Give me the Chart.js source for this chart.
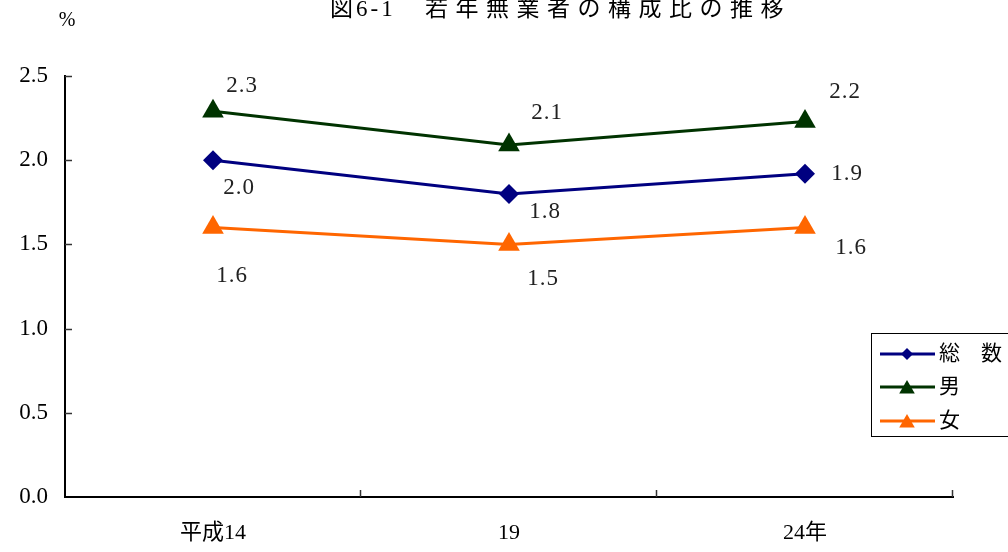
<!DOCTYPE html>
<html>
<head>
<meta charset="utf-8">
<script src="https://cdn.jsdelivr.net/npm/chart.js@4.4.1/dist/chart.umd.min.js"></script>
<style>
  html, body { margin: 0; padding: 0; background: #ffffff; }
  #wrap { width: 1008px; height: 552px; }
</style>
</head>
<body>
<div id="wrap"><canvas id="c" width="1008" height="552"></canvas></div>
<script>
// Survey years and the share of young jobless people (%)
const categories = ['平成14', '19', '24年'];
const totalValues = [2.0, 1.8, 1.92];
const maleValues = [2.29, 2.09, 2.23];
const femaleValues = [1.6, 1.5, 1.6];
const yTicks = [0.0, 0.5, 1.0, 1.5, 2.0, 2.5];
const seriesNames = ['総\u3000数', '男', '女'];

const SERIF = "'Liberation Serif', 'Noto Sans CJK JP', serif";
const COLORS = ['#000080', '#003300', '#ff6600'];
const STYLES = ['rectRot', 'triangle', 'triangle'];

// where each value label sits relative to its point [dx, dy]
const labelOffsets = [
  [[26, 28], [36, 18], [42, 0]],
  [[29, -25], [38, -32], [40, -30]],
  [[19, 48], [34, 35], [46, 20]]
];

const valueLabels = {
  id: 'valueLabels',
  afterDatasetsDraw(chart) {
    const ctx = chart.ctx;
    ctx.save();
    ctx.font = '23px ' + SERIF;
    ctx.fillStyle = '#222';
    ctx.textAlign = 'center';
    ctx.textBaseline = 'middle';
    ctx.letterSpacing = '1px';
    chart.data.datasets.forEach((ds, di) => {
      chart.getDatasetMeta(di).data.forEach((pt, i) => {
        const off = labelOffsets[di][i];
        ctx.fillText(ds.data[i].toFixed(1), pt.x + off[0], pt.y + off[1]);
      });
    });
    ctx.restore();
  }
};

// short tick marks pointing into the plot area
const innerTicks = {
  id: 'innerTicks',
  afterDraw(chart) {
    const ctx = chart.ctx;
    const a = chart.chartArea;
    const y = chart.scales.y, x = chart.scales.x;
    ctx.save();
    ctx.strokeStyle = '#333';
    ctx.lineWidth = 1.5;
    yTicks.forEach(v => {
      if (v === 0) return;
      const py = Math.round(y.getPixelForValue(v)) + 0.5;
      ctx.beginPath();
      ctx.moveTo(a.left, py);
      ctx.lineTo(a.left + 7, py);
      ctx.stroke();
    });
    const step = x.getPixelForValue(1) - x.getPixelForValue(0);
    categories.forEach((c, i) => {
      const px = Math.round(x.getPixelForValue(i) + step / 2) - 0.5;
      ctx.beginPath();
      ctx.moveTo(px, a.bottom);
      ctx.lineTo(px, a.bottom - 7);
      ctx.stroke();
    });
    ctx.restore();
  }
};

const header = {
  id: 'header',
  afterDraw(chart) {
    const ctx = chart.ctx;
    ctx.save();
    ctx.fillStyle = '#000';
    ctx.textBaseline = 'middle';
    ctx.font = '23px ' + SERIF;
    ctx.textAlign = 'left';
    ctx.letterSpacing = '3px';
    ctx.fillText('図6-1', 330, 10);
    ctx.letterSpacing = '7.5px';
    ctx.fillText('若年無業者の構成比の推移', 425, 10);
    ctx.letterSpacing = '0px';
    ctx.font = '20px ' + SERIF;
    ctx.textAlign = 'center';
    ctx.fillText('%', 67, 21);
    ctx.restore();
  }
};

const boxLegend = {
  id: 'boxLegend',
  afterDraw(chart) {
    const ctx = chart.ctx;
    ctx.save();
    ctx.strokeStyle = '#000';
    ctx.lineWidth = 1;
    ctx.strokeRect(871.5, 333.5, 140, 103);
    const rows = [354, 387, 421];
    const radii = [6, 9, 9];
    chart.data.datasets.forEach((ds, i) => {
      const yy = rows[i];
      ctx.strokeStyle = ds.borderColor;
      ctx.lineWidth = 3;
      ctx.beginPath();
      ctx.moveTo(880, yy);
      ctx.lineTo(935, yy);
      ctx.stroke();
      ctx.fillStyle = ds.borderColor;
      Chart.helpers.drawPoint(ctx, { pointStyle: ds.pointStyle, rotation: 0, radius: radii[i], borderWidth: 0 }, 907, yy + (i ? 2 : 0));
      ctx.fillStyle = '#000';
      ctx.font = '21px ' + SERIF;
      ctx.textAlign = 'left';
      ctx.textBaseline = 'middle';
      ctx.fillText(ds.label, 939, yy);
    });
    ctx.restore();
  }
};

const seriesData = [totalValues, maleValues, femaleValues];

new Chart(document.getElementById('c'), {
  type: 'line',
  data: {
    labels: categories,
    datasets: seriesData.map((vals, i) => ({
      label: seriesNames[i],
      data: vals,
      borderColor: COLORS[i],
      backgroundColor: COLORS[i],
      pointBackgroundColor: COLORS[i],
      pointBorderColor: COLORS[i],
      pointBorderWidth: 0,
      borderWidth: 3,
      pointStyle: STYLES[i],
      pointRadius: i === 0 ? 10 : 12.5,
      pointHoverRadius: i === 0 ? 10 : 12.5,
      tension: 0,
      clip: false
    }))
  },
  options: {
    responsive: false,
    animation: false,
    devicePixelRatio: 1,
    layout: { padding: { top: 76, right: 55, left: 0, bottom: 0 } },
    plugins: {
      legend: { display: false },
      title: { display: false },
      tooltip: { enabled: false }
    },
    scales: {
      x: {
        offset: true,
        grid: { display: true, drawOnChartArea: false, drawTicks: false, offset: true },
        border: { display: true, color: '#000', width: 2 },
        ticks: { color: '#000', padding: 23, font: { family: SERIF, size: 22 } },
        afterFit(s) { s.height = 55; }
      },
      y: {
        min: 0,
        max: 2.5,
        afterBuildTicks(s) { s.ticks = yTicks.map(v => ({ value: v })); },
        grid: { display: true, drawOnChartArea: false, drawTicks: false },
        border: { display: true, color: '#000', width: 2 },
        ticks: {
          color: '#000',
          padding: 17,
          font: { family: SERIF, size: 23 },
          callback: v => Number(v).toFixed(1)
        },
        afterFit(s) { s.width = 65; }
      }
    }
  },
  plugins: [valueLabels, innerTicks, header, boxLegend]
});
</script>
</body>
</html>
